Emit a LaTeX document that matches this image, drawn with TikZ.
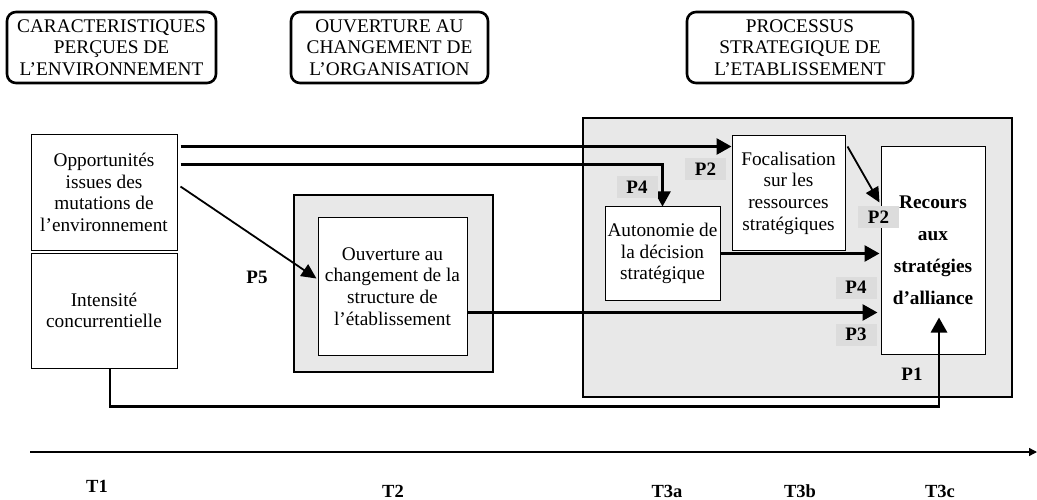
\documentclass[tikz,border=0pt]{standalone}
\usepackage{fontspec}
\setmainfont{Liberation Serif}
\usetikzlibrary{arrows.meta,calc}
\definecolor{boxgrey}{HTML}{E8E8E8}
\definecolor{labgrey}{HTML}{DCDCDC}
\tikzset{
  titlebox/.style={draw, line width=2.6pt, rounded corners=9pt, align=center, inner sep=0pt,
    font=\fontsize{19.3}{21.5}\selectfont},
  plainbox/.style={draw, line width=1pt, fill=white, align=center, inner sep=0pt,
    font=\fontsize{19.3}{21.7}\selectfont},
  greybox/.style={draw, line width=2.6pt, fill=boxgrey, inner sep=0pt},
  plab/.style={fill=labgrey, inner sep=0pt, minimum width=41pt, minimum height=22pt,
    font=\bfseries\fontsize{19}{21}\selectfont},
  plabnf/.style={inner sep=0pt, font=\bfseries\fontsize{19}{21}\selectfont},
  tlab/.style={inner sep=0pt, font=\bfseries\fontsize{18.5}{20}\selectfont},
  arrthick/.style={line width=2.8pt, -{Triangle[length=15pt,width=16pt]}},
  arrthin/.style={line width=1.8pt, -{Triangle[length=15pt,width=14pt]}},
}
\begin{document}
\begin{tikzpicture}[x=1pt,y=-1pt]
\useasboundingbox (0,0) rectangle (1037,500);

% title boxes
\node[titlebox, minimum width=209pt, minimum height=71pt] (t1) at (111.5,47.5)
  {CARACTERISTIQUES\\PERÇUES DE\\L’ENVIRONNEMENT};
\node[titlebox, minimum width=197pt, minimum height=71pt] (t2) at (389.5,47.5)
  {OUVERTURE AU\\CHANGEMENT DE\\L’ORGANISATION};
\node[titlebox, minimum width=226pt, minimum height=71pt] (t3) at (800,47.5)
  {PROCESSUS\\STRATEGIQUE DE\\L’ETABLISSEMENT};

% grey containers
\node[greybox, minimum width=199pt, minimum height=177pt] (ouvout) at (393.5,283.5) {};
\node[greybox, minimum width=429pt, minimum height=279pt] (proc) at (797.5,257.5) {};

% boxes
\node[plainbox, minimum width=146pt, minimum height=115pt] (opp) at (104,192.5)
  {Opportunités\\issues des\\mutations de\\l’environnement};
\node[plainbox, minimum width=146pt, minimum height=115pt] (int) at (104,310.5)
  {Intensité\\concurrentielle};
\node[plainbox, minimum width=149pt, minimum height=137pt] (ouv) at (392.5,286.5)
  {Ouverture au\\changement de la\\structure de\\l’établissement};
\node[plainbox, minimum width=113pt, minimum height=114pt] (foc) at (788.5,193)
  {Focalisation\\sur les\\ressources\\stratégiques};
\node[plainbox, minimum width=115pt, minimum height=93pt] (aut) at (662.5,253.5)
  {Autonomie de\\la décision\\stratégique};
\node[plainbox, minimum width=104pt, minimum height=207pt, font=\bfseries\fontsize{19.3}{32}\selectfont] (rec) at (933,250.5)
  {Recours\\aux\\stratégies\\d’alliance};

% connectors
\coordinate (o1) at ($(opp.north east)+(3,12)$);
\coordinate (o2) at ($(opp.north east)+(3,30)$);
\coordinate (o3) at ($(opp.north east)+(3,52)$);
\draw[arrthick] (o1) -- (foc.west |- o1);
\draw[line width=2.2pt, -{Triangle[length=15pt,width=16pt]}] (o2) -| (aut.north);
\draw[arrthin] (o3) -- ($(ouv.west)+(-1,-8)$);
\coordinate (v1) at ($(ouv.south east)+(0,-43)$);
\draw[arrthick] (v1) -- ($(rec.west |- v1)+(-3,0)$);
\draw[arrthick] (aut.east) -- ($(aut.east -| rec.west)+(-1,0)$);
\draw[arrthin] ($(foc.north east)+(2,11)$) -- ($(rec.north west)+(-1,56)$);
\coordinate (i1) at ($(int.south)+(6,0)$);
\draw[arrthick] (i1) -- ++(0,38) -| ($(rec.south)+(6,-37)$);

% proposition labels
\node[plab] (p2a) at (705.5,169.5) {P2};
\node[plab] (p4a) at (637,187) {P4};
\node[plab] (p2b) at (878.5,217) {P2};
\node[plab] (p4b) at (856,287.5) {P4};
\node[plab] (p3) at (856,334.5) {P3};
\node[plabnf] (p1) at (912,374) {P1};
\node[plabnf] (p5) at (257,277) {P5};

% timeline
\coordinate (tl0) at (30,452);
\coordinate (tl1) at (1037,452);
\draw[line width=1.3pt, -{Triangle[length=8pt,width=8pt]}] (tl0) -- (tl1);
\node[tlab] (T1) at (97,486) {T1};
\node[tlab] (T2) at (393,491) {T2};
\node[tlab] (T3a) at (667,491) {T3a};
\node[tlab] (T3b) at (800,491) {T3b};
\node[tlab] (T3c) at (940,491) {T3c};
\end{tikzpicture}
\end{document}
